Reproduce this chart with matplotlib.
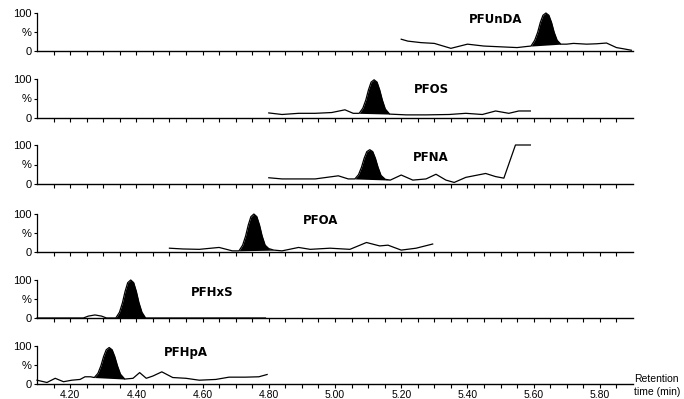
import numpy as np
import matplotlib
matplotlib.use("Agg")
import matplotlib.pyplot as plt

# retention times (min) and relative intensity (%)
names = ["PFUnDA", "PFOS", "PFNA", "PFOA", "PFHxS", "PFHpA"]

t_pfunda = [5.20, 5.22, 5.26, 5.30, 5.35, 5.40, 5.45, 5.50, 5.55, 5.58,
            5.592, 5.603, 5.612, 5.620, 5.628, 5.637, 5.646, 5.654, 5.662, 5.671, 5.682,
            5.70, 5.72, 5.76, 5.79, 5.82, 5.85, 5.87, 5.895]
i_pfunda = [31, 26, 22, 20, 7, 18, 13, 11, 9, 12,
            13, 28, 49, 75, 94, 100, 94, 75, 49, 28, 18,
            18, 20, 18, 19, 21, 9, 6, 2]

t_pfos = [4.80, 4.84, 4.89, 4.94, 4.99, 5.03, 5.055,
          5.073, 5.084, 5.093, 5.101, 5.109, 5.118, 5.127, 5.135, 5.143, 5.152, 5.165,
          5.215, 5.275, 5.345, 5.395, 5.445, 5.485, 5.525, 5.555, 5.59]
i_pfos = [13, 9, 12, 12, 14, 21, 12,
          12, 25, 46, 72, 92, 98, 92, 72, 46, 23, 10,
          8, 8, 9, 12, 9, 18, 12, 18, 18]

t_pfna = [4.80, 4.84, 4.89, 4.94, 5.01, 5.04,
          5.060, 5.071, 5.080, 5.088, 5.096, 5.105, 5.114, 5.122, 5.130, 5.139, 5.152, 5.167,
          5.20, 5.235, 5.275, 5.305, 5.335, 5.36, 5.395, 5.455, 5.485, 5.51, 5.545, 5.59]
i_pfna = [16, 13, 13, 13, 21, 13,
          13, 24, 43, 66, 83, 88, 83, 66, 43, 22, 12, 10,
          23, 10, 13, 25, 10, 4, 17, 27, 19, 15, 100, 100]

t_pfoa = [4.50, 4.54, 4.59, 4.65, 4.69,
          4.710, 4.721, 4.730, 4.738, 4.746, 4.755, 4.764, 4.772, 4.780, 4.789, 4.800, 4.815,
          4.84, 4.89, 4.925, 4.985, 5.045, 5.095, 5.135, 5.16, 5.20, 5.245, 5.295]
i_pfoa = [10, 8, 7, 12, 3,
          3, 18, 42, 71, 93, 100, 93, 71, 42, 18, 9, 5,
          3, 12, 7, 10, 7, 25, 16, 18, 5, 10, 21]

t_pfhxs = [4.10, 4.24, 4.255, 4.275, 4.295, 4.31,
           4.338, 4.349, 4.358, 4.366, 4.374, 4.383, 4.392, 4.400, 4.408, 4.417, 4.428,
           4.79]
i_pfhxs = [0, 0, 5, 8, 5, 0,
           0, 15, 40, 70, 93, 100, 93, 70, 40, 15, 0,
           0]

t_pfhpa = [4.10, 4.13, 4.155, 4.18, 4.205, 4.23, 4.245, 4.262,
           4.273, 4.284, 4.293, 4.301, 4.309, 4.318, 4.327, 4.335, 4.343, 4.352, 4.365,
           4.39, 4.41, 4.43, 4.45, 4.477, 4.51, 4.55, 4.59, 4.64, 4.68, 4.73, 4.77, 4.795]
i_pfhpa = [10, 4, 15, 6, 10, 12, 19, 19,
           17, 28, 48, 72, 90, 96, 90, 72, 48, 26, 13,
           15, 30, 15, 21, 32, 17, 15, 10, 12, 18, 18, 19, 25]

times = [t_pfunda, t_pfos, t_pfna, t_pfoa, t_pfhxs, t_pfhpa]
intens = [i_pfunda, i_pfos, i_pfna, i_pfoa, i_pfhxs, i_pfhpa]
# integrated peak windows (filled black)
peak_win = [(5.592, 5.682), (5.073, 5.165), (5.060, 5.167),
            (4.710, 4.815), (4.338, 4.428), (4.273, 4.365)]
label_pos = [(5.486, 82), (5.29, 72), (5.29, 67), (4.956, 82), (4.628, 68), (4.549, 82)]

x_ticks = np.round(np.arange(4.15, 5.851, 0.05), 2)
x_labels = [f"{v:.2f}" if abs(v * 5 - round(v * 5)) < 1e-6 else "" for v in x_ticks]

fig = plt.figure(figsize=(6.84, 3.99), dpi=100)
W, H = 684, 399
tops = [13, 79, 145, 214, 280, 346]
bots = [51, 118, 184, 252, 318, 384]
left, right = 37, 633

for k in range(6):
    ax = fig.add_axes([left / W, 1 - bots[k] / H, (right - left) / W, (bots[k] - tops[k]) / H])
    t = np.array(times[k])
    v = np.array(intens[k], dtype=float)
    ax.plot(t, v, color="black", lw=0.9, clip_on=False)
    t0, t1 = peak_win[k]
    m = (t >= t0 - 1e-9) & (t <= t1 + 1e-9)
    chord = np.interp(t[m], [t0, t1], [np.interp(t0, t, v), np.interp(t1, t, v)])
    ax.fill_between(t[m], chord, v[m], color="black", lw=0, clip_on=False)
    ax.text(label_pos[k][0], label_pos[k][1], names[k], ha="center", va="center",
            fontsize=8.5, fontweight="bold", family="DejaVu Sans")

    ax.set_xlim(4.10, 5.90)
    ax.set_ylim(0, 100)
    for s in ["top", "right"]:
        ax.spines[s].set_visible(False)
    ax.spines["left"].set_linewidth(0.9)
    ax.spines["bottom"].set_linewidth(1.0)
    ax.set_yticks([0, 50, 100])
    ax.set_yticklabels(["0", "%", "100"], fontsize=8, family="Liberation Sans")
    ax.tick_params(axis="y", length=2.5, width=0.8, pad=1.5)
    ax.set_xticks(x_ticks)
    if k == 5:
        ax.set_xticklabels(x_labels, fontsize=7.5, family="Liberation Sans")
    else:
        ax.set_xticklabels([])
    ax.tick_params(axis="x", length=3, width=0.8, pad=1)

fig.text(634 / W, 1 - 379 / H, "Retention", fontsize=7.5, family="Liberation Sans",
         ha="left", va="center")
fig.text(634 / W, 1 - 392 / H, "time (min)", fontsize=7.5, family="Liberation Sans",
         ha="left", va="center")

fig.savefig("out.png", dpi=100)
